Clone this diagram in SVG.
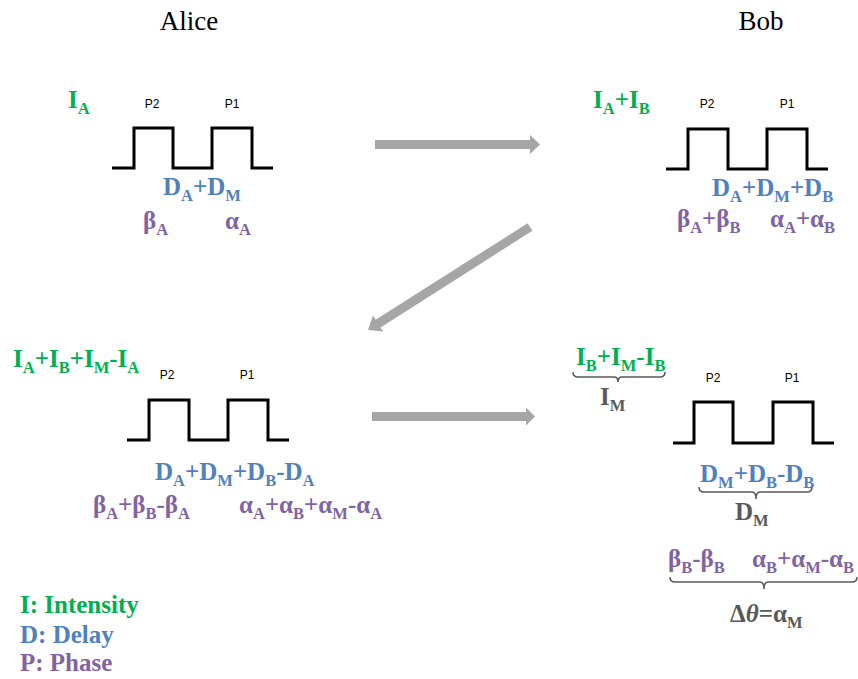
<svg xmlns="http://www.w3.org/2000/svg" width="858" height="679" viewBox="0 0 858 679">
  <style>
    .title { font-family: "Liberation Serif", "Times New Roman", serif; font-size: 27px; fill: #000; text-anchor: middle; }
    .m { font-family: "Liberation Serif", "Times New Roman", serif; font-size: 25px; font-weight: bold; }
    .s { font-size: 16.5px; baseline-shift: -6px; }
    .g { fill: #00b050; }
    .b { fill: #4f81bd; }
    .p { fill: #8064a2; }
    .k { fill: #595959; }
    .lbl { font-family: "Liberation Sans", Arial, sans-serif; font-size: 12px; fill: #000; text-anchor: middle; }
    .wave { fill: none; stroke: #000; stroke-width: 3; stroke-linejoin: miter; }
    .arrow { fill: #a6a6a6; }
    .brace { fill: none; stroke: #595959; stroke-width: 1.5; }
  </style>

  <text class="title" x="189" y="30">Alice</text>
  <text class="title" x="761" y="30">Bob</text>

  <!-- Alice: initial pulse pair -->
  <g id="alice-top">
    <text class="m g" x="68" y="108">I<tspan class="s">A</tspan></text>
    <text class="lbl" x="152" y="108">P2</text>
    <text class="lbl" x="232" y="108">P1</text>
    <path class="wave" d="M112 168 H134 V128 H173 V168 H212 V128 H252 V168 H273"/>
    <text class="m b" x="163" y="195">D<tspan class="s">A</tspan>+D<tspan class="s">M</tspan></text>
    <text class="m p" x="143" y="229">β<tspan class="s">A</tspan></text>
    <text class="m p" x="225" y="229">α<tspan class="s">A</tspan></text>
  </g>

  <!-- Bob: after first pass -->
  <g id="bob-top">
    <text class="m g" x="593" y="108">I<tspan class="s">A</tspan>+I<tspan class="s">B</tspan></text>
    <text class="lbl" x="707" y="108">P2</text>
    <text class="lbl" x="787" y="108">P1</text>
    <path class="wave" d="M666 169 H688 V129 H728 V169 H767 V129 H807 V169 H828"/>
    <text class="m b" x="712" y="196">D<tspan class="s">A</tspan>+D<tspan class="s">M</tspan>+D<tspan class="s">B</tspan></text>
    <text class="m p" x="677" y="227">β<tspan class="s">A</tspan>+β<tspan class="s">B</tspan></text>
    <text class="m p" x="770" y="227">α<tspan class="s">A</tspan>+α<tspan class="s">B</tspan></text>
  </g>

  <!-- Alice: returned pulse pair -->
  <g id="alice-bottom">
    <text class="m g" x="13" y="367">I<tspan class="s">A</tspan>+I<tspan class="s">B</tspan>+I<tspan class="s">M</tspan>-I<tspan class="s">A</tspan></text>
    <text class="lbl" x="167" y="379">P2</text>
    <text class="lbl" x="247" y="379">P1</text>
    <path class="wave" d="M127 440 H149 V400 H189 V440 H228 V400 H268 V440 H289"/>
    <text class="m b" x="155" y="480">D<tspan class="s">A</tspan>+D<tspan class="s">M</tspan>+D<tspan class="s">B</tspan>-D<tspan class="s">A</tspan></text>
    <text class="m p" x="93" y="513">β<tspan class="s">A</tspan>+β<tspan class="s">B</tspan>-β<tspan class="s">A</tspan></text>
    <text class="m p" x="239" y="513">α<tspan class="s">A</tspan>+α<tspan class="s">B</tspan>+α<tspan class="s">M</tspan>-α<tspan class="s">A</tspan></text>
  </g>

  <!-- Bob: final pulse pair with braces -->
  <g id="bob-bottom">
    <text class="m g" x="576" y="365">I<tspan class="s">B</tspan>+I<tspan class="s">M</tspan>-I<tspan class="s">B</tspan></text>
    <path class="brace" d="M573 372 Q573 377 578 377 H614 Q618 377 618 382 Q618 377 622 377 H660 Q665 377 665 372"/>
    <text class="m k" x="600" y="405">I<tspan class="s">M</tspan></text>
    <text class="lbl" x="713" y="382">P2</text>
    <text class="lbl" x="792" y="382">P1</text>
    <path class="wave" d="M673 443 H694 V402 H733 V443 H773 V402 H813 V443 H834"/>
    <text class="m b" x="700" y="482">D<tspan class="s">M</tspan>+D<tspan class="s">B</tspan>-D<tspan class="s">B</tspan></text>
    <path class="brace" d="M699 487 Q699 492 704 492 H752 Q756 492 756 499 Q756 492 760 492 H807 Q812 492 812 487"/>
    <text class="m k" x="735" y="520">D<tspan class="s">M</tspan></text>
    <text class="m p" x="668" y="567">β<tspan class="s">B</tspan>-β<tspan class="s">B</tspan></text>
    <text class="m p" x="752" y="567">α<tspan class="s">B</tspan>+α<tspan class="s">M</tspan>-α<tspan class="s">B</tspan></text>
    <path class="brace" d="M670 577 Q670 582 675 582 H760 Q764 582 764 589 Q764 582 768 582 H852 Q857 582 857 577"/>
    <text class="m k" x="730" y="622">Δ<tspan font-style="italic">θ</tspan>=α<tspan class="s">M</tspan></text>
  </g>

  <!-- Legend -->
  <g id="legend">
    <text class="m g" x="20" y="613">I: Intensity</text>
    <text class="m b" x="20" y="643">D: Delay</text>
    <text class="m p" x="20" y="671">P: Phase</text>
  </g>

  <!-- Transfer arrows -->
  <g id="connectors">
    <polygon class="arrow" points="375,140 530,140 530,135 540,144.5 530,154 530,149 375,149"/>
    <polygon class="arrow" transform="translate(530 227) rotate(147.55)" points="0,-4.5 180,-4.5 180,-9.5 192,0 180,9.5 180,4.5 0,4.5"/>
    <polygon class="arrow" points="372,412 526,412 526,407.5 535,416.5 526,425.5 526,421 372,421"/>
  </g>
</svg>
